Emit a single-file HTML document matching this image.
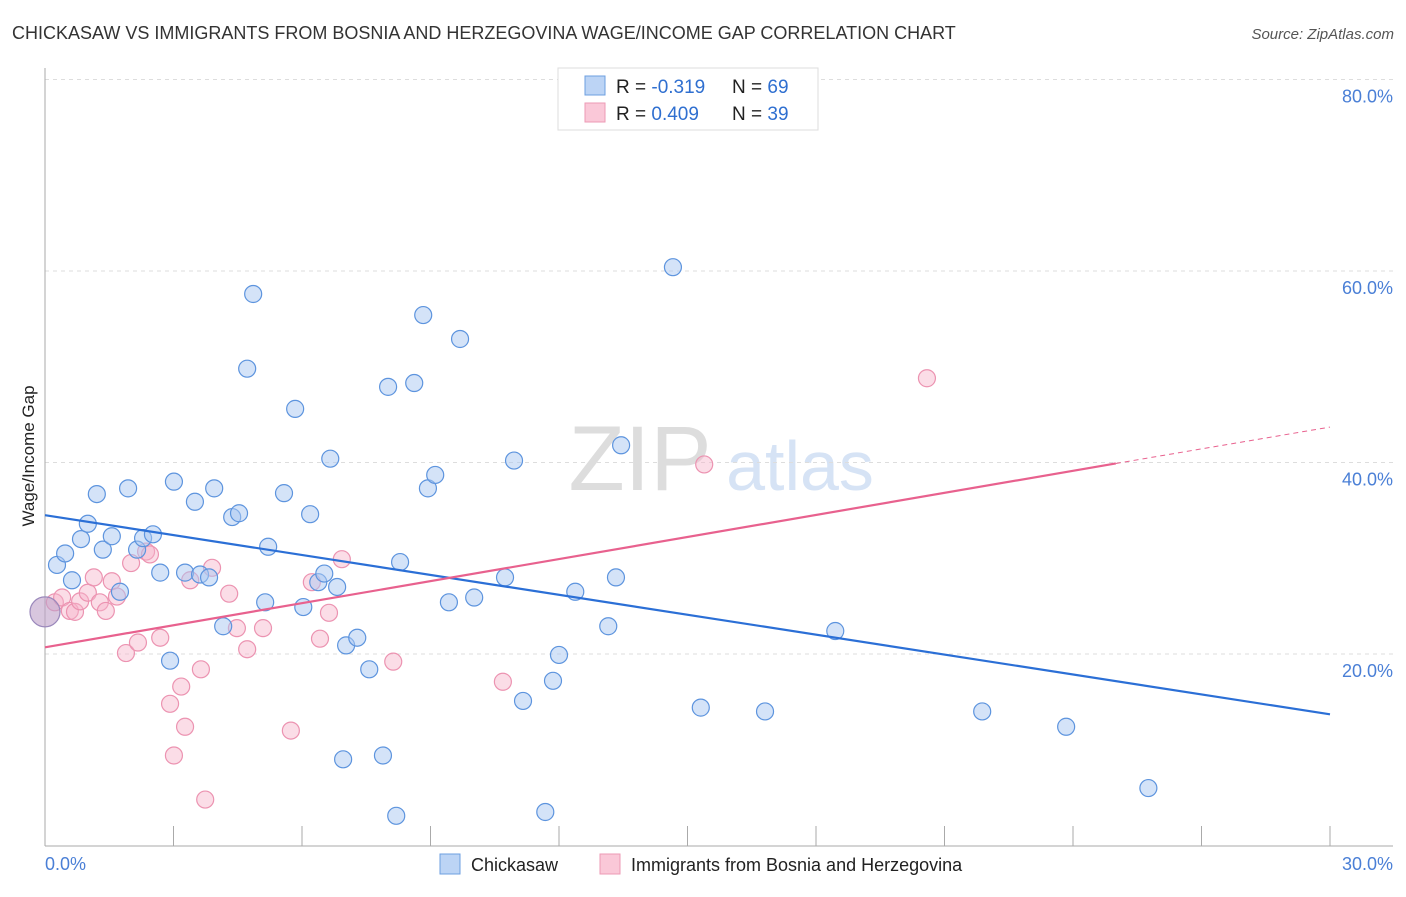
<!DOCTYPE html>
<html><head><meta charset="utf-8"><style>
body{margin:0;background:#fff;font-family:"Liberation Sans",sans-serif}
svg text{font-family:"Liberation Sans",sans-serif}
</style></head><body>
<svg width="1406" height="892" viewBox="0 0 1406 892">
<text x="12" y="39" font-size="18" fill="#333">CHICKASAW VS IMMIGRANTS FROM BOSNIA AND HERZEGOVINA WAGE/INCOME GAP CORRELATION CHART</text>
<text x="1394" y="39" font-size="15" fill="#555" font-style="italic" text-anchor="end">Source: ZipAtlas.com</text>
<g><text x="640" y="490" font-size="92" fill="#ddd" font-family="Liberation Serif,serif" text-anchor="middle">ZIP</text><text x="800" y="490" font-size="70" fill="#d6e3f5" text-anchor="middle">atlas</text></g>
<g id="grid"></g>
<g id="axes"></g>
<g id="points"></g>
<g id="trends"></g>
<text transform="translate(34,456) rotate(-90)" font-size="17" fill="#222" text-anchor="middle">Wage/Income Gap</text>
<text x="45" y="870" font-size="18" fill="#4a7fd6">0.0%</text>
<text x="1393" y="870" font-size="18" fill="#4a7fd6" text-anchor="end">30.0%</text>
<g>
<rect x="558" y="68" width="260" height="62" fill="#fff" stroke="#ddd"/>
<rect x="585" y="76" width="20" height="19" fill="#bcd4f5" stroke="#6d9fe0"/>
<rect x="585" y="103" width="20" height="19" fill="#fac8d8" stroke="#ec9ab5"/>
<text x="616" y="93" font-size="19" fill="#222">R = <tspan fill="#2f6fd0">-0.319</tspan></text>
<text x="732" y="93" font-size="19" fill="#222">N = <tspan fill="#2f6fd0">69</tspan></text>
<text x="616" y="120" font-size="19" fill="#222">R = <tspan fill="#2f6fd0"> 0.409</tspan></text>
<text x="732" y="120" font-size="19" fill="#222">N = <tspan fill="#2f6fd0">39</tspan></text>
</g>
<g>
<rect x="440" y="854" width="20" height="20" fill="#bcd4f5" stroke="#6d9fe0"/>
<text x="471" y="871" font-size="18" fill="#222">Chickasaw</text>
<rect x="600" y="854" width="20" height="20" fill="#fac8d8" stroke="#ec9ab5"/>
<text x="631" y="871" font-size="18" fill="#222">Immigrants from Bosnia and Herzegovina</text>
</g>
</svg>
<script>
const yTicks=[20,40,60,80];
const yTickLabels=["20.0%","40.0%","60.0%","80.0%"];
const xTicks=[3,6,9,12,15,18,21,24,27,30];
const blueX=[0.28,0.47,0.63,0.84,1.00,1.21,1.35,1.56,1.75,1.94,2.15,2.29,2.52,2.69,2.92,3.01,3.27,3.50,3.62,3.83,3.95,4.16,4.37,4.53,4.72,4.86,5.14,5.21,5.58,5.84,6.03,6.19,6.38,6.52,6.66,6.82,7.03,7.29,7.57,6.96,7.89,8.01,8.20,8.62,8.83,8.94,9.11,8.29,9.43,9.69,10.02,10.74,10.95,11.16,11.68,11.86,12.00,12.38,13.15,13.33,13.45,14.66,15.31,16.81,18.45,21.88,23.84,25.76];
const blueY=[29.3,30.5,27.7,32.0,33.6,36.7,30.9,32.3,26.5,37.3,30.9,32.1,32.5,28.5,19.3,38.0,28.5,35.9,28.3,28.0,37.3,22.9,34.3,34.7,49.8,57.6,25.4,31.2,36.8,45.6,24.9,34.6,27.5,28.4,40.4,27.0,20.9,21.7,18.4,9.0,9.4,47.9,3.1,48.3,55.4,37.3,38.7,29.6,25.4,52.9,25.9,28.0,40.2,15.1,3.5,17.2,19.9,26.5,22.9,28.0,41.8,60.4,14.4,14.0,22.4,14.0,12.4,6.0];
const pinkX=[0.23,0.40,0.58,0.70,0.82,1.00,1.14,1.28,1.42,1.56,1.68,1.89,2.01,2.17,2.36,2.45,2.69,2.92,3.18,3.27,3.01,3.39,3.64,3.74,3.90,4.30,4.48,4.72,5.09,5.74,6.23,6.42,6.63,6.93,8.13,10.69,15.39,20.59];
const pinkY=[25.4,25.9,24.5,24.4,25.5,26.4,28.0,25.4,24.5,27.6,26.0,20.1,29.5,21.2,30.7,30.4,21.7,14.8,16.6,12.4,9.4,27.7,18.4,4.8,29.0,26.3,22.7,20.5,22.7,12.0,27.5,21.6,24.3,29.9,19.2,17.1,39.8,48.8];
const bigPoint=[0.0,24.4];
const blueTrend=[[0,34.5],[30,13.7]];
const pinkTrendSolid=[[0,20.7],[25.0,39.9]];
const pinkTrendDash=[[25.0,39.9],[30,43.7]];
const NS="http://www.w3.org/2000/svg";
const X=v=>45+v/30*1285, Y=v=>845.5-v/20*191.5;
function mk(t,a,p){const e=document.createElementNS(NS,t);for(const k in a)e.setAttribute(k,a[k]);p.appendChild(e);return e;}
const grid=document.getElementById('grid');
yTicks.forEach((t,i)=>{
 const l=mk('line',{x1:45,x2:1393,y1:Y(t),y2:Y(t),stroke:'#ddd','stroke-dasharray':'4,4'},grid);
 
 
 const tx=mk('text',{x:1393,y:Y(t)+23,'font-size':18,fill:'#4a7fd6','text-anchor':'end'},grid);
 tx.textContent=yTickLabels[i];
 
 
});
const ax=document.getElementById('axes');
const xa=mk('line',{x1:45,x2:1393,y1:846,y2:846,stroke:'#aaa'},ax);


const ya=mk('line',{x1:45,x2:45,y1:68,y2:846,stroke:'#aaa'},ax);


xTicks.forEach(t=>{const l=mk('line',{x1:X(t),x2:X(t),y1:826,y2:846,stroke:'#aaa'},ax);
 
 });
const pts=document.getElementById('points');
pinkX.forEach((x,i)=>{const c=mk('circle',{cx:X(x),cy:Y(pinkY[i]),r:8.5,fill:'rgba(246,180,202,0.45)',stroke:'#ec93b1','stroke-width':1.2},pts);
 
 });
blueX.forEach((x,i)=>{const c=mk('circle',{cx:X(x),cy:Y(blueY[i]),r:8.5,fill:'rgba(170,200,242,0.5)',stroke:'#5d94de','stroke-width':1.2},pts);
 
 });
const bp=mk('circle',{cx:X(bigPoint[0]),cy:Y(bigPoint[1]),r:15,fill:'rgba(190,160,200,0.6)',stroke:'#9a88bb','stroke-width':1.2},pts);


const tr=document.getElementById('trends');
function line(a,attrs,name){const l=mk('line',Object.assign({x1:X(a[0][0]),y1:Y(a[0][1]),x2:X(a[1][0]),y2:Y(a[1][1])},attrs),tr);
 
 }
line(blueTrend,{stroke:'#2b6fd6','stroke-width':2.2},'chickasaw-trend-line');
line(pinkTrendSolid,{stroke:'#e8618e','stroke-width':2.2},'bosnia-trend-line');
line(pinkTrendDash,{stroke:'#e8618e','stroke-width':1,'stroke-dasharray':'5,4'},'bosnia-trend-extension');
</script>
</body></html>
